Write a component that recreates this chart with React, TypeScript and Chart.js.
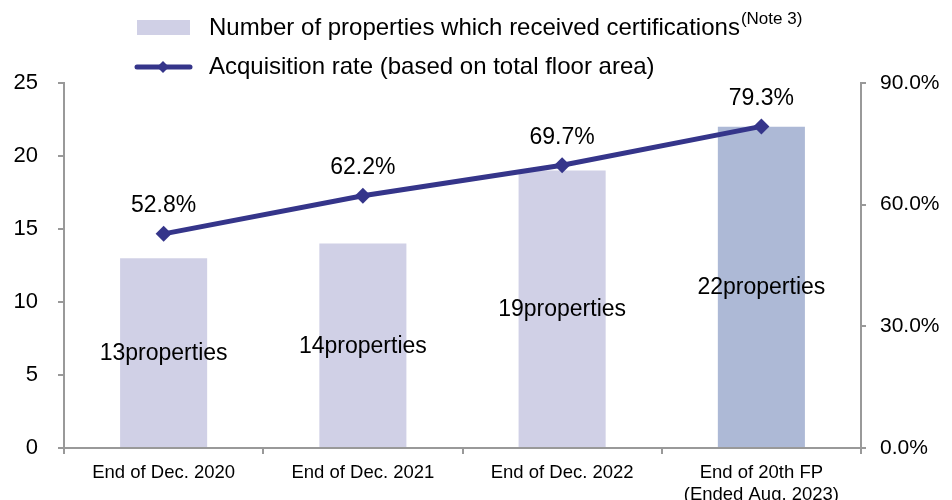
import React, { useEffect, useRef } from 'react';
import { Chart, registerables } from 'chart.js';

Chart.register(...registerables);

const categories: string[][] = [
  ['End of Dec. 2020'],
  ['End of Dec. 2021'],
  ['End of Dec. 2022'],
  ['End of 20th FP', '(Ended Aug. 2023)'],
];
const propertyCounts = [13, 14, 19, 22];
const acquisitionRates = [52.8, 62.2, 69.7, 79.3];
const barLabels = ['13properties', '14properties', '19properties', '22properties'];
const barColors = ['#d0d0e6', '#d0d0e6', '#d0d0e6', '#adb9d6'];
const legendBarText = 'Number of properties which received certifications';
const legendBarNote = '(Note 3)';
const legendLineText = 'Acquisition rate (based on total floor area)';

const FONT = '"Liberation Sans", Arial, sans-serif';
const LINE_COLOR = '#35358a';
const AXIS_COLOR = '#999999';

const labelsPlugin = {
  id: 'customLabels',
  afterDatasetsDraw(chart: any) {
    const ctx = chart.ctx;
    ctx.save();
    ctx.fillStyle = '#000';
    ctx.textAlign = 'center';
    ctx.textBaseline = 'middle';
    ctx.font = `23px ${FONT}`;
    const barMeta = chart.getDatasetMeta(0);
    barMeta.data.forEach((bar: any, i: number) => {
      ctx.fillText(barLabels[i], bar.x, (bar.y + bar.base) / 2 + 1);
    });
    const lineMeta = chart.getDatasetMeta(1);
    lineMeta.data.forEach((pt: any, i: number) => {
      ctx.fillText(acquisitionRates[i].toFixed(1) + '%', pt.x, pt.y - 28);
    });
    ctx.restore();
  },
  afterDraw(chart: any) {
    const ctx = chart.ctx;
    ctx.save();
    // bar legend swatch
    ctx.fillStyle = barColors[0];
    ctx.fillRect(137, 20, 53, 15);
    // line legend
    ctx.strokeStyle = LINE_COLOR;
    ctx.lineWidth = 5;
    ctx.lineCap = 'round';
    ctx.beginPath();
    ctx.moveTo(137, 67);
    ctx.lineTo(190, 67);
    ctx.stroke();
    ctx.fillStyle = LINE_COLOR;
    ctx.beginPath();
    ctx.moveTo(163, 61);
    ctx.lineTo(169, 67);
    ctx.lineTo(163, 73);
    ctx.lineTo(157, 67);
    ctx.closePath();
    ctx.fill();
    // texts
    ctx.fillStyle = '#000';
    ctx.textAlign = 'left';
    ctx.textBaseline = 'middle';
    ctx.font = `24px ${FONT}`;
    ctx.fillText(legendBarText, 209, 28);
    const w = ctx.measureText(legendBarText).width;
    ctx.font = `17px ${FONT}`;
    ctx.fillText(legendBarNote, 209 + w + 1, 19);
    ctx.font = `24px ${FONT}`;
    ctx.fillText(legendLineText, 209, 67);
    ctx.restore();
  },
};

export default function App() {
  const canvasRef = useRef<HTMLCanvasElement | null>(null);

  useEffect(() => {
    if (!canvasRef.current) return;
    const chart = new Chart(canvasRef.current, {
      type: 'bar',
      data: {
        labels: categories,
        datasets: [
          {
            type: 'bar',
            label: legendBarText,
            data: propertyCounts,
            backgroundColor: barColors,
            yAxisID: 'y',
            categoryPercentage: 1,
            barPercentage: 0.437,
            order: 2,
          },
          {
            type: 'line',
            label: legendLineText,
            data: acquisitionRates,
            borderColor: LINE_COLOR,
            backgroundColor: LINE_COLOR,
            borderWidth: 5,
            pointStyle: 'rectRot',
            pointRadius: 8,
            pointBackgroundColor: LINE_COLOR,
            pointBorderWidth: 0,
            yAxisID: 'y1',
            tension: 0,
            order: 1,
          } as any,
        ],
      },
      options: {
        responsive: false,
        animation: false,
        layout: { padding: { top: 83, left: 0, right: 0, bottom: 0 } },
        plugins: {
          legend: { display: false },
          tooltip: { enabled: false },
        },
        scales: {
          x: {
            offset: true,
            grid: {
              display: true,
              drawOnChartArea: false,
              drawTicks: true,
              tickLength: 6,
              color: AXIS_COLOR,
              offset: true,
              lineWidth: 2,
            },
            border: { display: true, color: AXIS_COLOR, width: 2 },
            ticks: {
              color: '#000',
              font: { family: FONT, size: 18.5 },
              padding: 8,
              maxRotation: 0,
              autoSkip: false,
            },
            afterFit: (s: any) => {
              s.height = 52;
            },
          },
          y: {
            position: 'left',
            min: 0,
            max: 25,
            ticks: {
              stepSize: 5,
              color: '#000',
              font: { family: FONT, size: 22 },
              padding: 20,
            },
            grid: {
              display: true,
              drawOnChartArea: false,
              tickLength: 6,
              color: AXIS_COLOR,
              lineWidth: 2,
            },
            border: { display: true, color: AXIS_COLOR, width: 2 },
            afterFit: (s: any) => {
              s.width = 64;
            },
          },
          y1: {
            position: 'right',
            min: 0,
            max: 90,
            ticks: {
              stepSize: 30,
              color: '#000',
              font: { family: FONT, size: 21 },
              padding: 14,
              callback: (v: any) => Number(v).toFixed(1) + '%',
            },
            grid: {
              display: true,
              drawOnChartArea: false,
              tickLength: 5,
              color: AXIS_COLOR,
              lineWidth: 2,
            },
            border: { display: true, color: AXIS_COLOR, width: 2 },
            afterFit: (s: any) => {
              s.width = 91;
            },
          },
        },
      },
      plugins: [labelsPlugin],
    });
    return () => chart.destroy();
  }, []);

  return (
    <div style={{ position: 'fixed', left: 0, top: 0, width: 952, height: 500, background: '#fff' }}>
      <canvas ref={canvasRef} width={952} height={500} style={{ display: 'block' }} />
    </div>
  );
}
